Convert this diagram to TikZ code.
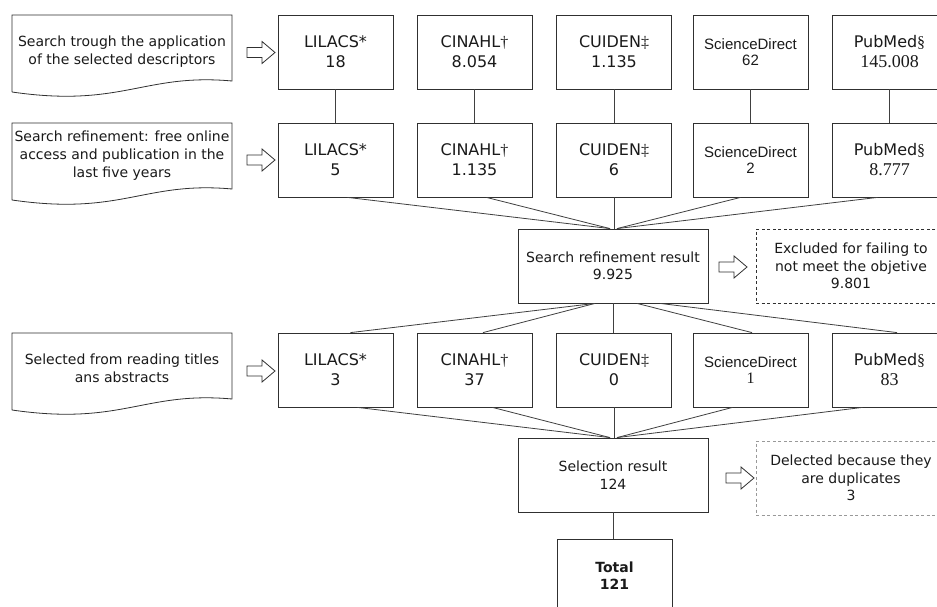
\documentclass[tikz,border=0pt]{standalone}
\usepackage{fontspec}
\setmainfont{DejaVu Sans}
\newfontfamily\sdfont{Liberation Sans}
\newfontfamily\tmfont{Liberation Serif}
\usetikzlibrary{calc}
\definecolor{lineC}{HTML}{404040}
\definecolor{boxC}{HTML}{303030}
\definecolor{txtC}{HTML}{1A1A1A}
\tikzset{
  boxline/.style={draw=boxC, line width=0.8pt},
  conn/.style={draw=lineC, line width=0.8pt},
  dbbox/.style={boxline, rectangle, minimum width=115pt, minimum height=74pt, inner sep=0pt, align=center, text=txtC, font=\fontsize{16}{20}\selectfont},
  sdbox/.style={dbbox, font=\sdfont\fontsize{15}{16}\selectfont},
  resbox/.style={boxline, rectangle, minimum width=190pt, minimum height=74pt, inner sep=0pt, align=center, text=txtC, font=\fontsize{14}{17.5}\selectfont},
  exbox/.style={resbox, draw=boxC, dash pattern=on 3pt off 2.5pt},
  delbox/.style={resbox, draw=black!40, dash pattern=on 3pt off 2.5pt},
  doctext/.style={align=center, text=txtC, inner sep=0pt, font=\fontsize{14}{18}\selectfont},
  barrow/.pic={\draw[boxline, fill=white] (0,-5) -- (15,-5) -- (15,-11) -- (28,0) -- (15,11) -- (15,5) -- (0,5) -- cycle;}
}
\begin{document}
\begin{tikzpicture}[x=1pt, y=-1pt]
\clip (0,0) rectangle (937,607);
\fill[white] (0,0) rectangle (937,607);

% document shapes
\draw[boxline] (12,92) -- (12,15) -- (232,15) -- (232,81) .. controls (144,73) and (122,108) .. (12,92);
\draw[boxline] (12,200) -- (12,123) -- (232,123) -- (232,189) .. controls (144,181) and (122,216) .. (12,200);
\draw[boxline] (12,410) -- (12,333) -- (232,333) -- (232,399) .. controls (144,391) and (122,426) .. (12,410);
\node[doctext] (d1) at (122,52) {Search trough the application\\of the selected descriptors};
\node[doctext] (d2) at (122,156) {Search refinement: free online\\access and publication in the\\last five years};
\node[doctext] (d3) at (122,368) {Selected from reading titles\\ans abstracts};

% row 1
\node[dbbox] (l1) at (335.5,52) {LILACS*\\18};
\node[dbbox] (c1) at (474.5,52) {CINAHL{\tmfont†}\\8.054};
\node[dbbox] (u1) at (614,52) {CUIDEN{\tmfont‡}\\1.135};
\node[sdbox] (s1) at (750.5,52) {ScienceDirect\\62};
\node[dbbox] (p1) at (889.5,52) {PubMed{\tmfont§}\\{\tmfont\fontsize{18}{20}\selectfont 145.008}};

% row 2
\node[dbbox] (l2) at (335.5,160) {LILACS*\\5};
\node[dbbox] (c2) at (474.5,160) {CINAHL{\tmfont†}\\1.135};
\node[dbbox] (u2) at (614,160) {CUIDEN{\tmfont‡}\\6};
\node[sdbox] (s2) at (750.5,160) {ScienceDirect\\2};
\node[dbbox] (p2) at (889.5,160) {PubMed{\tmfont§}\\{\tmfont\fontsize{18}{20}\selectfont 8.777}};

% result
\node[resbox] (res) at (613,266) {Search refinement result\\9.925};
\node[exbox] (exc) at (851,266) {Excluded for failing to\\not meet the objetive\\9.801};

% row 3
\node[dbbox] (l3) at (335.5,370) {LILACS*\\3};
\node[dbbox] (c3) at (474.5,370) {CINAHL{\tmfont†}\\37};
\node[dbbox] (u3) at (614,370) {CUIDEN{\tmfont‡}\\0};
\node[sdbox] (s3) at (750.5,370) {ScienceDirect\\{\tmfont\fontsize{16}{16}\selectfont 1}};
\node[dbbox] (p3) at (889.5,370) {PubMed{\tmfont§}\\{\tmfont\fontsize{18}{20}\selectfont 83}};

% selection
\node[resbox] (sel) at (613,475) {Selection result\\124};
\node[delbox] (del) at (851,478) {Delected because they\\are duplicates\\3};
\node[dbbox, font=\bfseries\fontsize{14}{17}\selectfont] (tot) at (614.5,576) {Total\\121};

% block arrows
\pic at (247,52.5) {barrow};
\pic at (247,160) {barrow};
\pic at (247,371) {barrow};
\pic at (719,267) {barrow};
\pic at (726,478) {barrow};

% row1 -> row2
\foreach \a/\b in {l1/l2, c1/c2, u1/u2, s1/s2, p1/p2}
  \draw[conn] (\a.south) -- (\b.north);

% row2 -> result
\draw[conn] ($(l2.south)+(12,0)$) -- ($(res.north)+(-3,0)$);
\draw[conn] ($(c2.south)+(12,0)$) -- ($(res.north)+(-3,0)$);
\draw[conn] (u2.south) -- (u2.south |- res.north);
\draw[conn] ($(s2.south)+(-10,0)$) -- ($(res.north)+(4,0)$);
\draw[conn] ($(p2.south)+(-12,0)$) -- ($(res.north)+(4,0)$);

% result -> row3
\draw[conn] ($(res.south)+(-18,0)$) -- ($(l3.north)+(15,0)$);
\draw[conn] ($(res.south)+(-18,0)$) -- ($(c3.north)+(8.5,0)$);
\draw[conn] (res.south) -- (res.south |- u3.north);
\draw[conn] ($(res.south)+(24,0)$) -- ($(s3.north)+(1.5,0)$);
\draw[conn] ($(res.south)+(47,0)$) -- ($(p3.north)+(7.5,0)$);

% row3 -> selection
\draw[conn] ($(l3.south)+(22,0)$) -- ($(sel.north)+(-3,0)$);
\draw[conn] ($(c3.south)+(18,0)$) -- ($(sel.north)+(-3,0)$);
\draw[conn] (u3.south) -- (u3.south |- sel.north);
\draw[conn] ($(s3.south)+(-18,0)$) -- ($(sel.north)+(4,0)$);
\draw[conn] ($(p3.south)+(-27,0)$) -- ($(sel.north)+(4,0)$);

% selection -> total
\draw[conn] (sel.south) -- (sel.south |- tot.north);
\end{tikzpicture}
\end{document}
